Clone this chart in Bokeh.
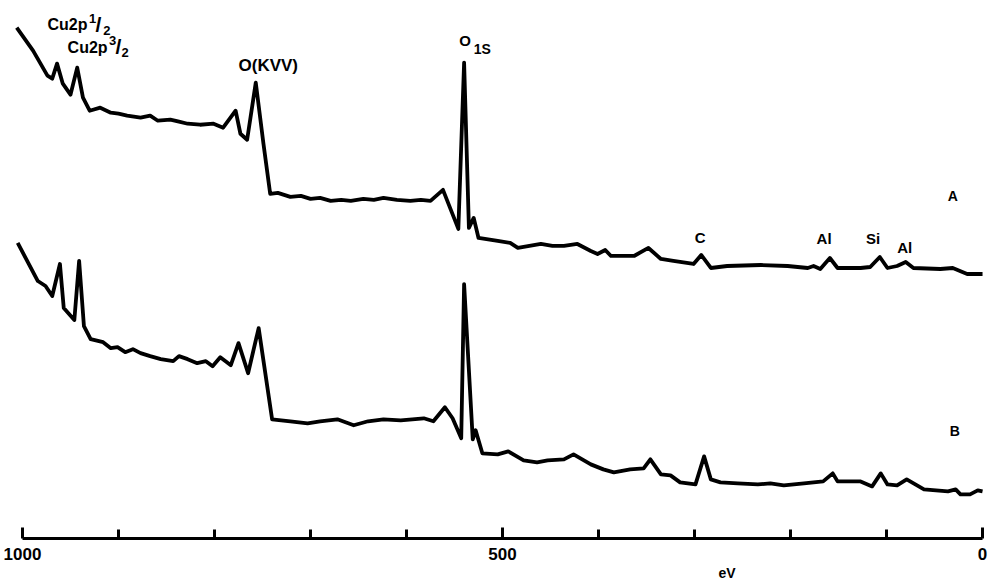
from bokeh.plotting import figure
from bokeh.models import Range1d, FixedTicker, ColumnDataSource, LinearAxis, Title
from bokeh.core.properties import value
from bokeh.embed import file_html
from bokeh.resources import INLINE

# ---- data (binding energy in eV, intensity in arbitrary units) ----
ev_a = [1006, 989, 974, 969, 964, 958, 950, 943, 937, 930, 919, 908, 900, 891, 877, 867,
        859, 846, 837, 828, 815, 801, 791, 778, 773, 766, 757, 749, 742, 734, 721, 710,
        700, 690, 679, 668, 658, 645, 634, 624, 610, 596, 585, 575, 562, 546, 540, 535,
        530, 525, 505, 492, 484, 472, 460, 448, 436, 422, 408, 401, 393, 387, 375, 363,
        348, 335, 322, 301, 293, 283, 266, 231, 203, 182, 176, 169, 159, 151, 127, 117,
        107, 99, 89, 80, 72, 44, 31, 16, 0]
int_a = [510, 487, 462, 459, 474, 454, 443, 470, 440, 427, 430, 425, 424, 422, 420, 422,
         417, 418, 416, 414, 413, 414, 410, 427, 404, 398, 455, 394, 344, 345, 341, 342,
         339, 340, 337, 338, 337, 339, 338, 340, 338, 337, 338, 337, 348, 309, 475, 310,
         320, 300, 297, 295, 290, 292, 294, 292, 292, 294, 287, 284, 288, 282, 282, 282,
         290, 279, 277, 274, 283, 270, 272, 273, 272, 270, 272, 269, 280, 270, 270, 271,
         281, 270, 272, 276, 270, 269, 270, 264, 264]

ev_b = [1005, 984, 976, 969, 961, 957, 946, 941, 936, 929, 916, 908, 901, 893, 885, 877,
        867, 856, 843, 837, 828, 818, 809, 802, 794, 783, 775, 765, 754, 740, 721, 703,
        690, 672, 655, 640, 624, 606, 582, 572, 560, 552, 543, 540, 531, 528, 521, 505,
        494, 478, 464, 453, 436, 426, 408, 395, 384, 367, 353, 346, 335, 325, 315, 299,
        290, 283, 273, 255, 234, 221, 207, 186, 166, 156, 151, 127, 115, 106, 99, 89,
        79, 61, 36, 28, 23, 13, 5, 0]
int_b = [295, 257, 252, 242, 274, 230, 218, 277, 212, 199, 196, 190, 191, 186, 189, 185,
         182, 179, 177, 182, 179, 175, 177, 172, 181, 173, 195, 165, 210, 119, 117, 115,
         117, 119, 113, 117, 119, 118, 120, 117, 131, 120, 100, 254, 99, 108, 85, 84,
         87, 78, 76, 78, 79, 84, 74, 69, 66, 69, 70, 79, 64, 63, 56, 54,
         82, 59, 56, 55, 54, 55, 53, 55, 57, 65, 57, 57, 52, 65, 54, 53,
         59, 49, 47, 49, 44, 44, 48, 47]

major_ticks = [0, 500, 1000]
minor_ticks = [100, 200, 300, 400, 600, 700, 800, 900]
axis_title = "eV"

lab_text = ["Cu2p", "1", "/", "2", "Cu2p", "3", "/", "2", "O(KVV)", "O", "1S",
            "C", "Al", "Si", "Al", "A", "B"]
lab_x = [974, 927, 921, 912, 953, 906, 900, 893, 744, 539, 521, 294, 165, 114, 81, 31, 29]
lab_y = [513, 519, 513, 507, 490, 497, 491, 485, 472, 497, 489, 300, 299, 299, 290, 342, 107]
lab_size = ["16px", "13px", "21px", "13px", "16px", "13px", "21px", "13px", "17px", "15px",
            "14px", "15px", "15px", "15px", "15px", "14px", "14px"]
lab_align = ["left", "center", "center", "center", "left", "center", "center", "center",
             "center", "center", "center", "center", "center", "center", "center", "center", "center"]

FONT = "Liberation Sans"

p = figure(width=990, height=580, output_backend="svg", toolbar_location=None,
           x_range=Range1d(1022.9, -8.3), y_range=Range1d(0, 537),
           x_axis_location=None, y_axis_location=None,
           min_border_left=0, min_border_right=0, min_border_top=0, min_border_bottom=0)
p.outline_line_color = None
p.xgrid.visible = False
p.ygrid.visible = False
p.background_fill_color = "white"
p.border_fill_color = "white"

p.line(ev_a, int_a, line_width=3.8, line_color="black", line_join="round")
p.line(ev_b, int_b, line_width=3.8, line_color="black", line_join="round")

src = ColumnDataSource(dict(x=lab_x, y=lab_y, text=lab_text, size=lab_size, align=lab_align))
p.text(x="x", y="y", text="text", source=src, text_font=value(FONT), text_font_style="bold",
       text_font_size="size", text_align="align", text_baseline="middle", text_color="black")

ax = LinearAxis(ticker=FixedTicker(ticks=major_ticks, minor_ticks=minor_ticks), bounds=(0, 1000))
ax.axis_line_width = 3
ax.axis_line_color = "black"
ax.major_tick_in = 11
ax.major_tick_out = 0
ax.minor_tick_in = 9
ax.minor_tick_out = 0
ax.major_tick_line_width = 3
ax.minor_tick_line_width = 3
ax.major_tick_line_color = "black"
ax.minor_tick_line_color = "black"
ax.major_label_text_font = FONT
ax.major_label_text_font_style = "bold"
ax.major_label_text_font_size = "17px"
ax.major_label_text_color = "black"
ax.major_label_standoff = 9
p.add_layout(ax, "below")

t = Title(text=axis_title, align="left", offset=718, standoff=0,
          text_font=FONT, text_font_style="bold", text_font_size="14px", text_color="black")
p.add_layout(t, "below")

open("out.html", "w").write(file_html(p, INLINE))
